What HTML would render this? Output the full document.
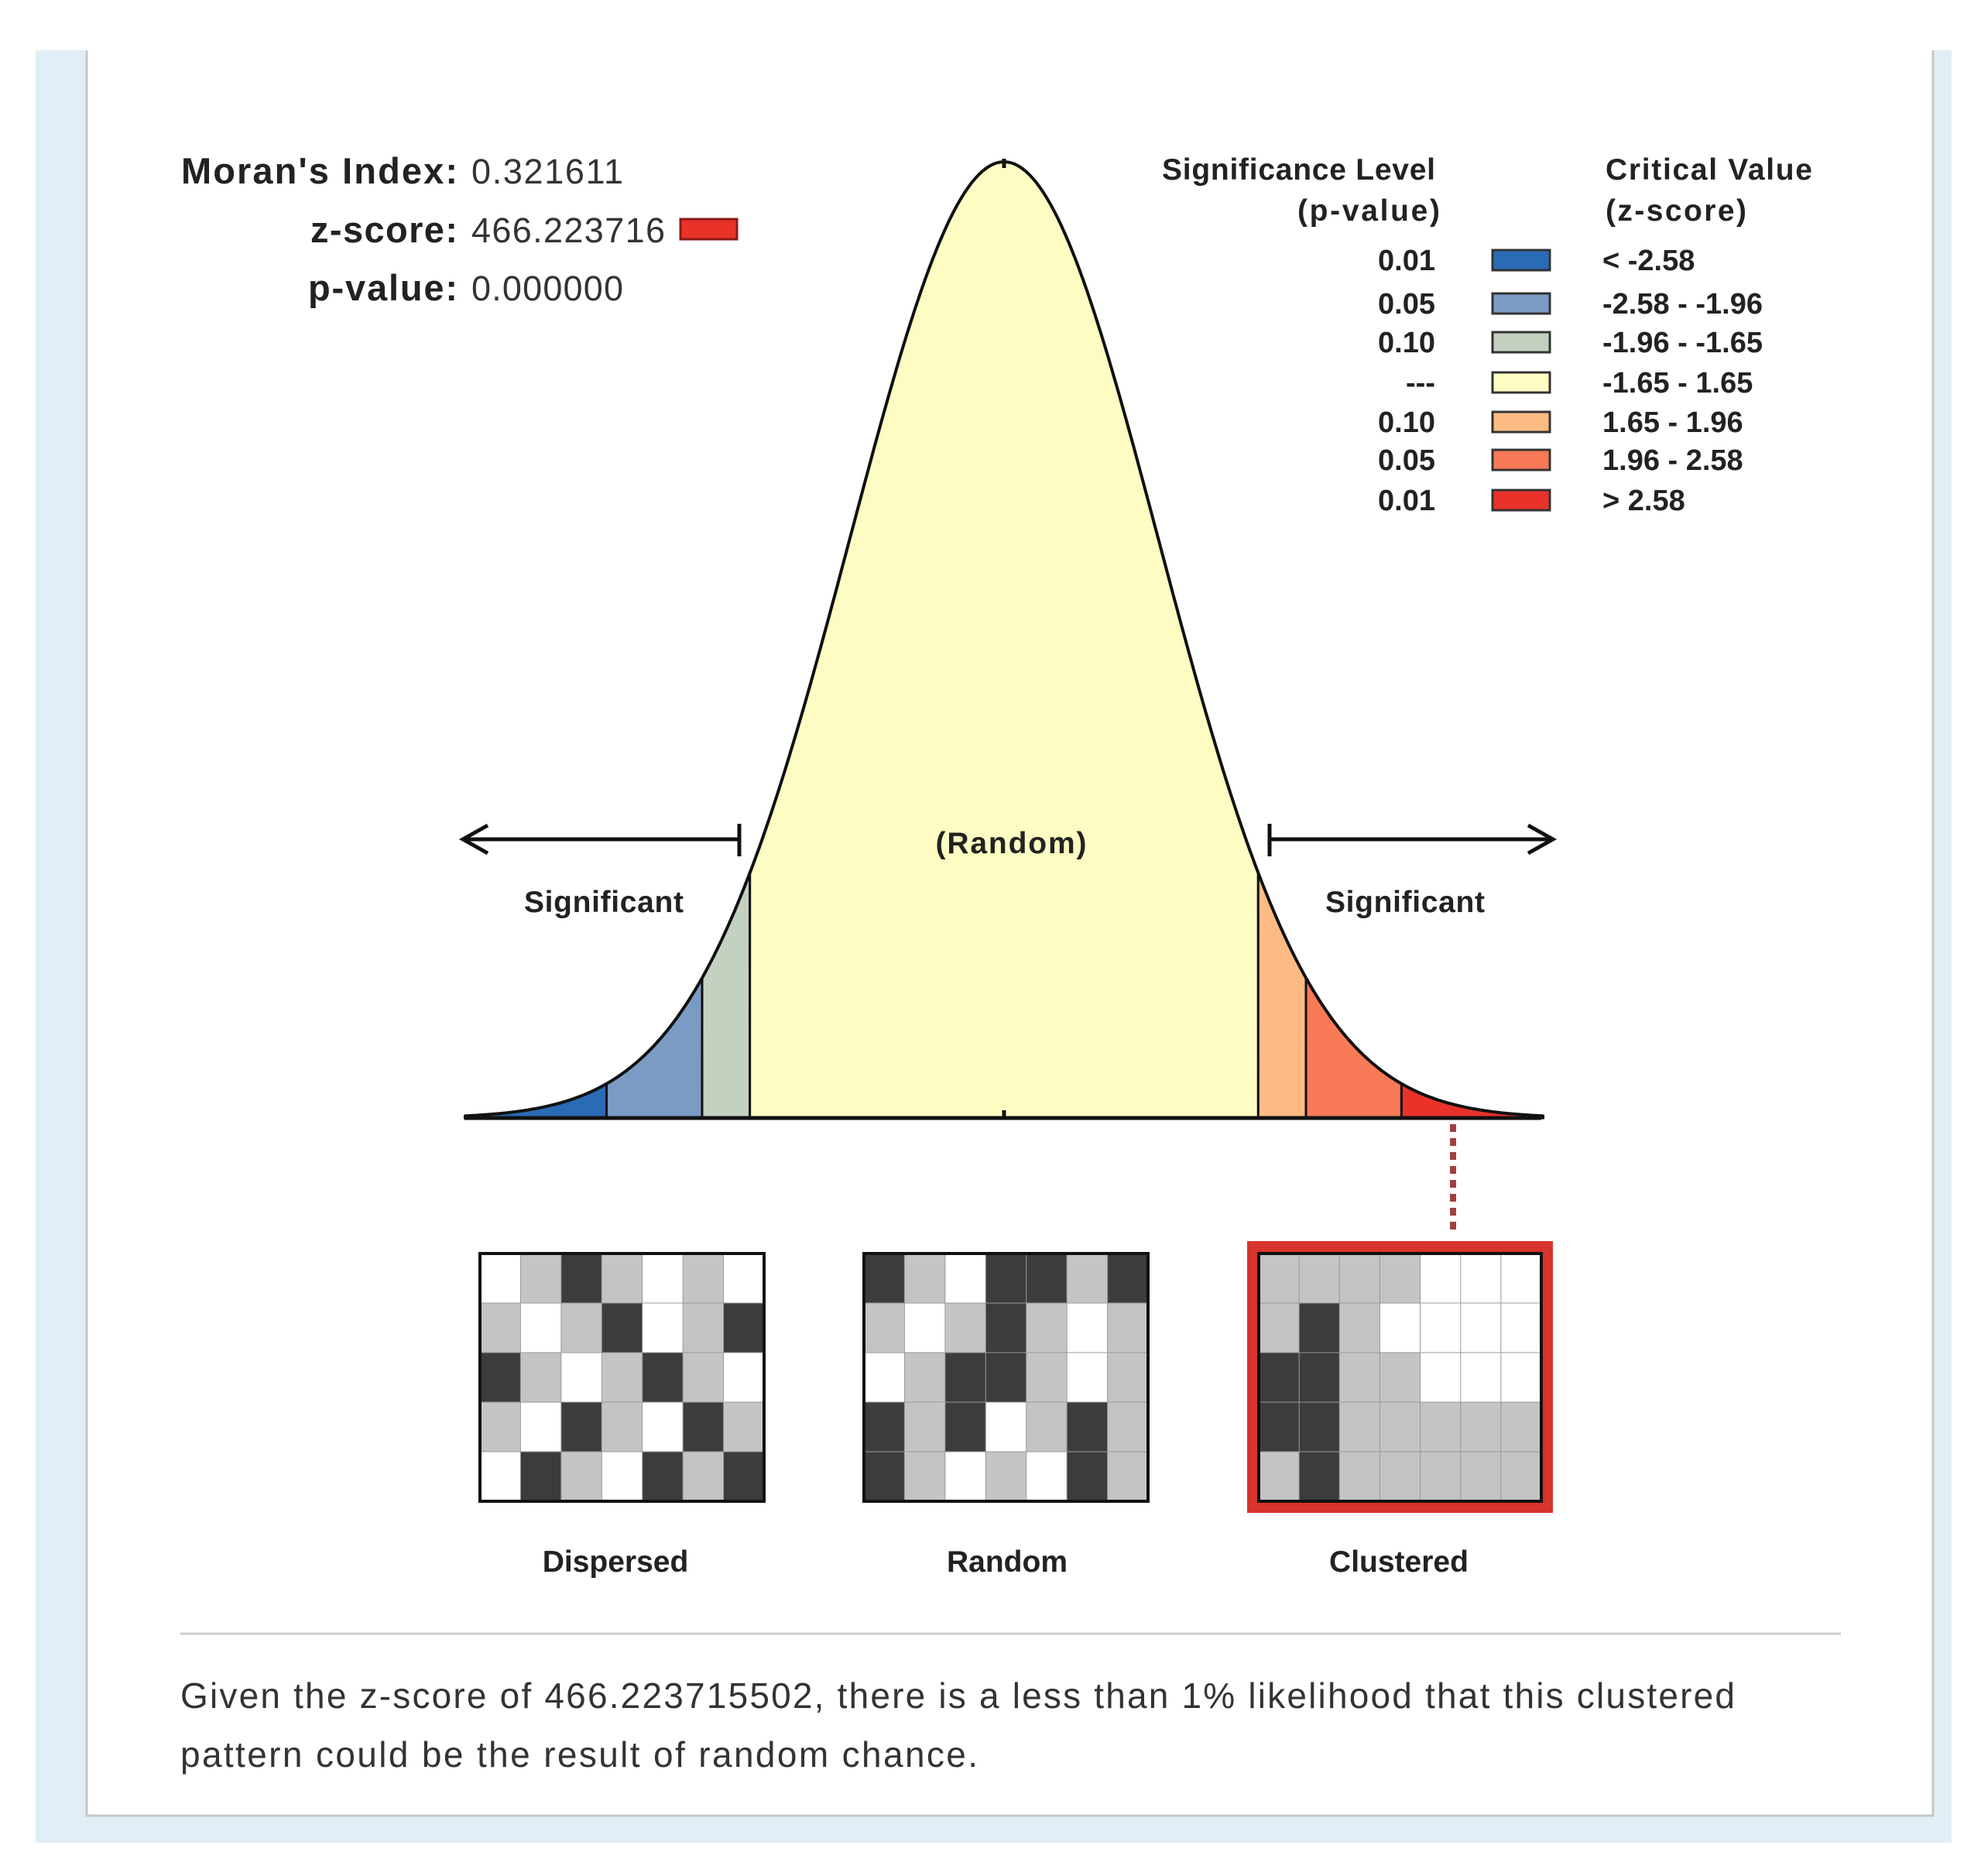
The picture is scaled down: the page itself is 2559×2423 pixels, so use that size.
<!DOCTYPE html>
<html><head><meta charset="utf-8">
<style>
html,body{margin:0;padding:0;background:#fff;}
svg{display:block;}
text{font-family:"Liberation Sans","DejaVu Sans",sans-serif;}
</style></head>
<body>
<svg id="chart" width="2559" height="2423" viewBox="0 0 2559 2423" xmlns="http://www.w3.org/2000/svg">
<rect x="46" y="65" width="2475" height="2315" fill="#e0eef5"/>
<rect x="112" y="65" width="2385" height="2280" fill="#fff"/>
<path d="M112,65 L112,2345 L2497,2345 L2497,65" fill="none" stroke="#c4c8ca" stroke-width="3"/>

<g>
<text x="591" y="237" font-size="47" font-weight="bold" text-anchor="end" fill="#222" textLength="357">Moran's Index:</text>
<text x="609" y="237" font-size="45" fill="#333" textLength="196">0.321611</text>
<text x="591" y="313" font-size="47" font-weight="bold" text-anchor="end" fill="#222" textLength="190">z-score:</text>
<text x="609" y="313" font-size="45" fill="#333" textLength="250">466.223716</text>
<rect x="879" y="283" width="73" height="26" fill="#e8322a" stroke="#8a1a14" stroke-width="3"/>
<text x="591" y="388" font-size="47" font-weight="bold" text-anchor="end" fill="#222" textLength="193">p-value:</text>
<text x="609" y="388" font-size="45" fill="#333" textLength="196">0.000000</text>
</g>

<g id="curve"></g>
<g id="legend">
<text x="1854" y="232" font-size="39" font-weight="bold" text-anchor="end" fill="#222" textLength="353">Significance Level</text>
<text x="1860" y="285" font-size="39" font-weight="bold" text-anchor="end" fill="#222" textLength="184">(p-value)</text>
<text x="2074" y="232" font-size="39" font-weight="bold" fill="#222" textLength="267">Critical Value</text>
<text x="2074" y="285" font-size="39" font-weight="bold" fill="#222" textLength="182">(z-score)</text>
</g>

<g>
<line x1="600" y1="1084" x2="955" y2="1084" stroke="#111" stroke-width="5"/>
<polyline points="630,1066 598,1084 630,1102" fill="none" stroke="#111" stroke-width="5"/>
<line x1="955" y1="1064" x2="955" y2="1106" stroke="#111" stroke-width="5"/>
<line x1="1640" y1="1084" x2="2006" y2="1084" stroke="#111" stroke-width="5"/>
<polyline points="1974,1066 2006,1084 1974,1102" fill="none" stroke="#111" stroke-width="5"/>
<line x1="1640" y1="1064" x2="1640" y2="1106" stroke="#111" stroke-width="5"/>
<text x="1306" y="1102" font-size="39" font-weight="bold" text-anchor="middle" fill="#222" textLength="195">(Random)</text>
<text x="780" y="1178" font-size="39" font-weight="bold" text-anchor="middle" fill="#222" textLength="206">Significant</text>
<text x="1815" y="1178" font-size="39" font-weight="bold" text-anchor="middle" fill="#222" textLength="206">Significant</text>
<line x1="1877" y1="1452" x2="1877" y2="1596" stroke="#a04040" stroke-width="8" stroke-dasharray="10,8"/>
</g>

<g id="maps"></g>

<line x1="233" y1="2110" x2="2378" y2="2110" stroke="#ccc" stroke-width="3"/>
<text x="233" y="2206" font-size="46" fill="#333" textLength="2008">Given the z-score of 466.223715502, there is a less than 1% likelihood that this clustered</text>
<text x="233" y="2282" font-size="46" fill="#333" textLength="1030">pattern could be the result of random chance.</text>
</svg>
<script>
const breaks = [-3.5, -2.58, -1.96, -1.65, 1.65, 1.96, 2.58, 3.5];
const bandColors = ["#2a6bb5", "#7a9cc4", "#c4d0c0", "#fdfcc2", "#fdbb84", "#f87a56", "#e8322a"];
const pLabels = ["0.01", "0.05", "0.10", "---", "0.10", "0.05", "0.01"];
const zLabels = ["< -2.58", "-2.58 - -1.96", "-1.96 - -1.65", "-1.65 - 1.65", " 1.65 - 1.96", " 1.96 - 2.58", "> 2.58"];
const legendRowsY = [336, 392, 442, 494, 545, 594, 646];

const NS = "http://www.w3.org/2000/svg";
const cx = 1297, sigma = 199, baseY = 1444, peakH = 1235;
const xs = z => cx + z * sigma;
const ys = z => baseY - peakH * Math.exp(-z * z / 2);
function mk(tag, attrs, parent) { const e = document.createElementNS(NS, tag); for (const k in attrs) e.setAttribute(k, attrs[k]); parent.appendChild(e); return e; }

const curve = document.getElementById("curve");
for (let i = 0; i < breaks.length - 1; i++) {
  const a = breaks[i], b = breaks[i + 1];
  let d = "M" + xs(a) + "," + baseY;
  for (let s = 0; s <= 60; s++) { const z = a + (b - a) * s / 60; d += " L" + xs(z).toFixed(1) + "," + ys(z).toFixed(1); }
  d += " L" + xs(b) + "," + baseY + "Z";
  const p = mk("path", { d: d, fill: bandColors[i], stroke: "#111", "stroke-width": 3 }, curve);
  
  
}
let outline = "";
for (let s = 0; s <= 300; s++) { const z = -3.5 + 7 * s / 300; outline += (s ? " L" : "M") + xs(z).toFixed(1) + "," + ys(z).toFixed(1); }
const ol = mk("path", { d: outline, fill: "none", stroke: "#111", "stroke-width": 4 }, curve);


const bl = mk("line", { x1: 600, y1: baseY, x2: 1991, y2: baseY, stroke: "#111", "stroke-width": 5 }, curve);


const t1 = mk("line", { x1: cx, y1: baseY - 10, x2: cx, y2: baseY + 2, stroke: "#111", "stroke-width": 5 }, curve);


const t2 = mk("line", { x1: cx, y1: ys(0) - 4, x2: cx, y2: ys(0) + 8, stroke: "#111", "stroke-width": 5 }, curve);



const legend = document.getElementById("legend");
for (let i = 0; i < pLabels.length; i++) {
  const y = legendRowsY[i];
  const pt = mk("text", { x: 1854, y: y + 13, "font-size": 38, "font-weight": "bold", "text-anchor": "end", fill: "#222" }, legend);
  pt.textContent = pLabels[i];
  
  
  const sw = mk("rect", { x: 1928, y: y - 13, width: 74, height: 26, fill: bandColors[i], stroke: "#333", "stroke-width": 3 }, legend);
  
  
  const zt = mk("text", { x: 2070, y: y + 13, "font-size": 38, "font-weight": "bold", fill: "#222", "xml:space": "preserve" }, legend);
  zt.textContent = zLabels[i];
  
  
}

const maps = document.getElementById("maps");
const patterns = [
  ["wgdgwgw","gwgdwgd","dgwgdgw","gwdgwdg","wdgwdgd"],
  ["dgwddgd","gwgdgwg","wgddgwg","dgdwgdg","dgwgwdg"],
  ["ggggwww","gdgwwww","ddggwww","ddggggg","gdggggg"]
];
const mapX = [620, 1116, 1626], mapNames = ["Dispersed", "Random", "Clustered"], labelX = [795, 1301, 1807];
const fills = { d: "#3c3c3c", w: "#ffffff", g: "#c4c4c4" };
for (let m = 0; m < 3; m++) {
  const x0 = mapX[m], y0 = 1619, w = m === 2 ? 365 : 367, h = 320;
  const rows = patterns[m];
  const cw = w / 7, ch = h / 5;
  if (m === 2) {
    const fr = mk("rect", { x: 1611, y: 1603, width: 395, height: 351, fill: "#d6342c" }, maps);
    
    
  }
  rows.forEach((r, ri) => { for (let ci = 0; ci < 7; ci++) {
    const c = mk("rect", { x: x0 + ci * cw, y: y0 + ri * ch, width: cw + 0.5, height: ch + 0.5, fill: fills[r[ci]] || fills.g, stroke: "#999", "stroke-width": 1 }, maps);
    
    
  }});
  const bd = mk("rect", { x: x0, y: y0, width: w, height: h, fill: "none", stroke: "#111", "stroke-width": 4 }, maps);
  
  
  const lt = mk("text", { x: labelX[m], y: 2030, "font-size": 39, "font-weight": "bold", "text-anchor": "middle", fill: "#222" }, maps);
  lt.textContent = mapNames[m];
  
  
}
</script>
</body></html>
